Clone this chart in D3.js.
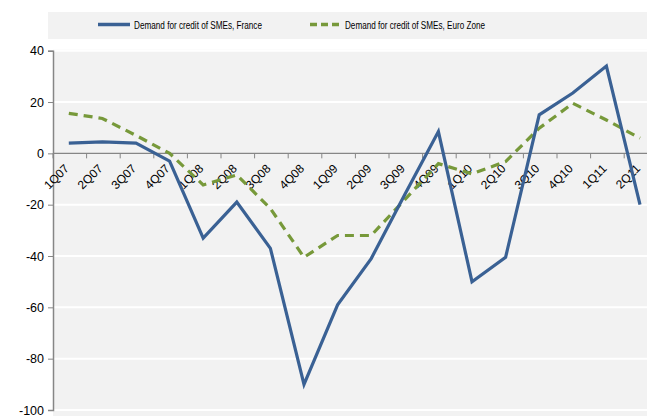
<!DOCTYPE html>
<html>
<head>
<meta charset="utf-8">
<script src="https://cdn.jsdelivr.net/npm/d3@7"></script>
<style>
  body { margin: 0; background: #fff; }
  svg { display: block; font-family: "Liberation Sans", Arial, sans-serif; }
</style>
</head>
<body>
<div id="chart"></div>
<script>
var quarters = ["1Q07","2Q07","3Q07","4Q07","1Q08","2Q08","3Q08","4Q08","1Q09","2Q09",
                "3Q09","4Q09","1Q10","2Q10","3Q10","4Q10","1Q11","2Q11"];
var france   = [4, 4.5, 4, -3, -33, -19, -37, -90, -59, -41, -16, 8.5, -50, -40.5, 15, 23.5, 34, -20];
var euroZone = [15.6, 13.6, 7, 0, -12.3, -8.4, -21.5, -40.5, -32, -32, -18, -4, -8, -3.2, 9.8, 19.5, 13, 5.9];
var yTicks = [40, 20, 0, -20, -40, -60, -80, -100];
var seriesNames = ["Demand for credit of SMEs, France", "Demand for credit of SMEs, Euro Zone"];

var width = 647, height = 416;
var blue = "#3a6194", green = "#77993a";

var svg = d3.select("#chart").append("svg")
    .attr("width", width)
    .attr("height", height);

// y-scale / x-scale
var y = d3.scaleLinear().domain([-100, 40]).range([410, 50.7]);
var x = d3.scaleBand().domain(quarters).range([52, 52 + 18 * 33.6]).padding(0);
function cx(q) { return x(q) + x.bandwidth() / 2; }

// plot background
svg.append("rect")
    .attr("x", 53).attr("y", y(40) - 1)
    .attr("width", width - 53).attr("height", height - y(40) + 1)
    .attr("fill", "#f2f2f2");

// legend background
svg.append("rect")
    .attr("x", 48).attr("y", 12)
    .attr("width", width - 48).attr("height", 27)
    .attr("fill", "#f2f2f2");

// gridlines
svg.append("g").selectAll("line")
    .data(yTicks.filter(function(d) { return d != 0; }))
    .enter().append("line")
    .attr("x1", 54).attr("x2", width)
    .attr("y1", function(d) { return y(d); })
    .attr("y2", function(d) { return y(d); })
    .attr("stroke", "#ffffff")
    .attr("stroke-width", 2);

// y axis (plain hyphen for negatives, like the original)
var yAxis = d3.axisLeft(y).tickValues(yTicks).tickSize(5).tickPadding(4)
    .tickFormat(function(d) { return String(d); });
var gy = svg.append("g").attr("transform", "translate(53,0)").call(yAxis);
gy.select(".domain").attr("stroke", "#868686").attr("stroke-width", 1.5);
gy.selectAll(".tick line").attr("stroke", "#868686");
gy.selectAll(".tick text")
    .attr("font-size", 12.5)
    .attr("font-family", "Liberation Sans, Arial, sans-serif")
    .attr("fill", "#000");

// x axis at zero
var y0 = y(0);
svg.append("line")
    .attr("x1", 53).attr("x2", width)
    .attr("y1", y0).attr("y2", y0)
    .attr("stroke", "#868686").attr("stroke-width", 1.2);

svg.append("g").selectAll("line")
    .data(quarters)
    .enter().append("line")
    .attr("x1", function(d) { return x(d) + 1; })
    .attr("x2", function(d) { return x(d) + 1; })
    .attr("y1", y0).attr("y2", y0 + 5)
    .attr("stroke", "#868686");

svg.append("g").selectAll("text")
    .data(quarters)
    .enter().append("text")
    .attr("transform", function(d) { return "translate(" + (cx(d) - 2) + "," + (y0 + 13) + ") rotate(-45)"; })
    .attr("text-anchor", "end")
    .attr("dy", "0.35em")
    .attr("font-size", 12)
    .attr("fill", "#000")
    .text(function(d) { return d; });

// lines
var line = d3.line()
    .x(function(d, i) { return cx(quarters[i]); })
    .y(function(d) { return y(d); });

svg.append("path")
    .datum(euroZone)
    .attr("d", line)
    .attr("fill", "none")
    .attr("stroke", green)
    .attr("stroke-width", 3.2)
    .attr("stroke-dasharray", "9,6");

svg.append("path")
    .datum(france)
    .attr("d", line)
    .attr("fill", "none")
    .attr("stroke", blue)
    .attr("stroke-width", 3.2)
    .attr("stroke-linejoin", "miter");

// legend
var legend = svg.append("g");
legend.append("line")
    .attr("x1", 98).attr("x2", 130).attr("y1", 24.5).attr("y2", 24.5)
    .attr("stroke", blue).attr("stroke-width", 3.5);
legend.append("text")
    .attr("x", 134).attr("y", 28.5)
    .attr("font-size", 10)
    .attr("textLength", 128).attr("lengthAdjust", "spacingAndGlyphs")
    .text(seriesNames[0]);
legend.append("line")
    .attr("x1", 310).attr("x2", 341).attr("y1", 24.5).attr("y2", 24.5)
    .attr("stroke", green).attr("stroke-width", 3.5)
    .attr("stroke-dasharray", "7,4");
legend.append("text")
    .attr("x", 345).attr("y", 28.5)
    .attr("font-size", 10)
    .attr("textLength", 140).attr("lengthAdjust", "spacingAndGlyphs")
    .text(seriesNames[1]);
</script>
</body>
</html>
